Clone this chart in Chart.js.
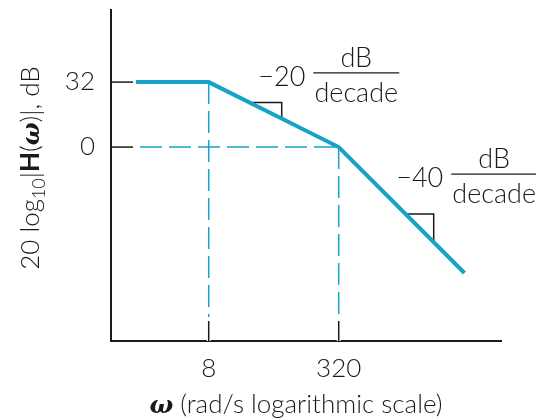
<!DOCTYPE html>
<html lang="en">
<head>
    <meta charset="UTF-8" />
    <title>Bode magnitude plot</title>
    <script src="https://cdn.jsdelivr.net/npm/chart.js"></script>
    <style>
        html, body { margin: 0; padding: 0; background: #fff; }
        #wrap { width: 536px; height: 419px; }
    </style>
</head>
<body>
    <div id="wrap"><canvas id="bode"></canvas></div>

    <script>
        // asymptotic magnitude
        const omega = [1, 8, 320, 11350];
        const magDb = [32, 32, 0, -62];

        // corner frequencies and their levels
        const cornerW = [8, 320];
        const cornerDb = [32, 0];

        // tick labels
        const xTicks = [8, 320];
        const yTicks = [0, 32];

        // slope markers (right-angle triangles on the line)
        const tri20W = [25.6, 63.5, 63.5];
        const tri20Db = [22, 22, 14];
        const tri40W = [2200, 4740, 4740];
        const tri40Db = [-33, -33, -47];

        // slope labels: text, anchor frequency and level
        const slopeText = ['\u221220', '\u221240'];
        const slopeW = [527, 26400];
        const slopeDb = [36.5, -13.3];

        const xMin = 0.5, xMax = 32000;
        const yMin = -95.5, yMax = 67.5;

        const blue = '#17a2c8';
        const ink = '#1a1a1a';
        const FONT = 'Lato, "Liberation Sans", Arial, sans-serif';
        const W = '300';
        const dash = [22, 7];

        const pts = (xs, ys) => xs.map((x, i) => ({ x: x, y: ys[i] }));

        const datasets = [
            {
                data: pts(omega, magDb),
                borderColor: blue, borderWidth: 4, order: 1
            },
            {
                data: [{ x: xMin, y: cornerDb[1] }, { x: cornerW[1], y: cornerDb[1] }],
                borderColor: blue, borderWidth: 1.5, borderDash: dash, order: 3
            },
            {
                data: [{ x: cornerW[0], y: cornerDb[0] }, { x: cornerW[0], y: yMin }],
                borderColor: blue, borderWidth: 1.5, borderDash: dash, order: 3
            },
            {
                data: [{ x: cornerW[1], y: cornerDb[1] }, { x: cornerW[1], y: yMin }],
                borderColor: blue, borderWidth: 1.5, borderDash: dash, order: 3
            },
            {
                data: pts(tri20W, tri20Db),
                borderColor: ink, borderWidth: 1.5, order: 2
            },
            {
                data: pts(tri40W, tri40Db),
                borderColor: ink, borderWidth: 1.5, order: 2
            }
        ];

        // inward tick marks, titles and slope labels
        const decor = {
            id: 'decor',
            afterDatasetsDraw(chart) {
                const ctx = chart.ctx;
                const xs = chart.scales.x, ys = chart.scales.y;
                const a = chart.chartArea;
                ctx.save();
                ctx.strokeStyle = ink;
                ctx.lineWidth = 1.5;
                // white gap under the tick so the dash does not run into it
                xTicks.forEach(v => {
                    const px = xs.getPixelForValue(v);
                    ctx.fillStyle = '#fff';
                    ctx.fillRect(px - 2, a.bottom - 24, 4, 24);
                    ctx.beginPath();
                    ctx.moveTo(px, a.bottom);
                    ctx.lineTo(px, a.bottom - 20);
                    ctx.stroke();
                });
                yTicks.forEach(v => {
                    const py = ys.getPixelForValue(v);
                    ctx.fillStyle = '#fff';
                    ctx.fillRect(a.left + 1, py - 2, 24, 4);
                    ctx.beginPath();
                    ctx.moveTo(a.left, py);
                    ctx.lineTo(a.left + 22, py);
                    ctx.stroke();
                });

                // slope labels
                ctx.fillStyle = ink;
                ctx.textBaseline = 'middle';
                slopeText.forEach((t, i) => {
                    const cx = xs.getPixelForValue(slopeW[i]);
                    const cy = ys.getPixelForValue(slopeDb[i]);
                    ctx.font = W + ' 27px ' + FONT;
                    ctx.textAlign = 'center';
                    ctx.fillText('dB', cx, cy - 15);
                    ctx.fillText('decade', cx, cy + 20);
                    ctx.textAlign = 'right';
                    ctx.fillText(t, cx - 51, cy + 4);
                    ctx.beginPath();
                    ctx.lineWidth = 1.2;
                    ctx.moveTo(cx - 43, cy);
                    ctx.lineTo(cx + 43, cy);
                    ctx.stroke();
                });

                // x title
                ctx.textAlign = 'left';
                ctx.textBaseline = 'alphabetic';
                const xt = ' (rad/s logarithmic scale)';
                ctx.font = 'bold italic 25px "DejaVu Serif", serif';
                const wOm = ctx.measureText('\u03c9').width;
                ctx.font = W + ' 26px ' + FONT;
                const wRest = ctx.measureText(xt).width;
                let x0 = (a.left + a.right) / 2 - 10 - (wOm + wRest) / 2;
                const yb = a.bottom + 72;
                ctx.font = 'bold italic 25px "DejaVu Serif", serif';
                ctx.fillText('\u03c9', x0, yb);
                ctx.font = W + ' 26px ' + FONT;
                ctx.fillText(xt, x0 + wOm, yb);

                // y title, rotated, mixed fonts
                const parts = [
                    { t: '20 log', f: W + ' 26px ' + FONT, dy: 0 },
                    { t: '10', f: W + ' 18px ' + FONT, dy: 6 },
                    { t: '|', f: W + ' 26px ' + FONT, dy: 0 },
                    { t: 'H', f: 'bold 26px ' + FONT, dy: 0 },
                    { t: '(', f: W + ' 26px ' + FONT, dy: 0 },
                    { t: '\u03c9', f: 'bold italic 24px "DejaVu Serif", serif', dy: 0 },
                    { t: ')|, dB', f: W + ' 26px ' + FONT, dy: 0 }
                ];
                let total = 0;
                parts.forEach(p => { ctx.font = p.f; p.w = ctx.measureText(p.t).width; total += p.w; });
                ctx.translate(39, 168);
                ctx.rotate(-Math.PI / 2);
                let cx = -total / 2;
                parts.forEach(p => {
                    ctx.font = p.f;
                    ctx.fillText(p.t, cx, p.dy);
                    cx += p.w;
                });
                ctx.restore();
            }
        };

        new Chart(document.getElementById('bode'), {
            type: 'line',
            data: { datasets: datasets },
            options: {
                responsive: true,
                maintainAspectRatio: false,
                animation: false,
                parsing: false,
                layout: { padding: { top: 10, right: 35, left: 0, bottom: 0 } },
                elements: {
                    point: { radius: 0 },
                    line: { tension: 0, borderCapStyle: 'butt', borderJoinStyle: 'miter', fill: false }
                },
                plugins: {
                    legend: { display: false },
                    tooltip: { enabled: false }
                },
                scales: {
                    x: {
                        type: 'logarithmic',
                        min: xMin, max: xMax,
                        afterBuildTicks: s => { s.ticks = xTicks.map(v => ({ value: v })); },
                        afterFit: s => { s.height = 78; s.paddingLeft = 0; s.paddingRight = 0; },
                        grid: { drawOnChartArea: false, drawTicks: false },
                        border: { display: true, color: ink, width: 2 },
                        ticks: {
                            color: ink,
                            padding: 12,
                            font: { family: FONT, size: 26, weight: W },
                            callback: v => String(v),
                            maxRotation: 0,
                            autoSkip: false
                        }
                    },
                    y: {
                        type: 'linear',
                        min: yMin, max: yMax,
                        afterBuildTicks: s => { s.ticks = yTicks.map(v => ({ value: v })); },
                        afterFit: s => { s.width = 111; s.paddingTop = 0; s.paddingBottom = 0; },
                        grid: { drawOnChartArea: false, drawTicks: false },
                        border: { display: true, color: ink, width: 2 },
                        ticks: {
                            color: ink,
                            padding: 16,
                            font: { family: FONT, size: 26, weight: W },
                            callback: v => String(v)
                        }
                    }
                }
            },
            plugins: [decor]
        });
    </script>
</body>
</html>
